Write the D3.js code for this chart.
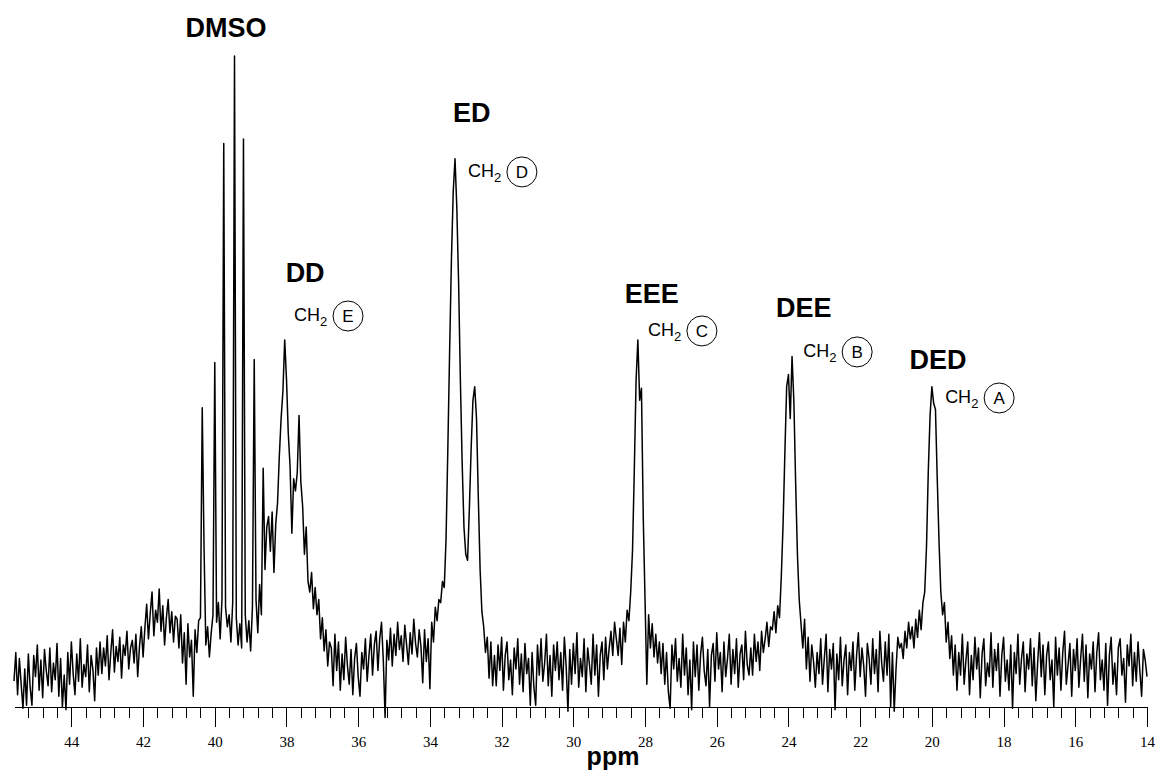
<!DOCTYPE html>
<html>
<head>
<meta charset="utf-8">
<script src="https://cdn.jsdelivr.net/npm/d3@7"></script>
<style>
  html, body { margin: 0; padding: 0; background: #fff; }
  svg { display: block; }
</style>
</head>
<body>
<svg id="chart" width="1155" height="771"></svg>
<script>
// ---------------- DATA ----------------
// 13C spectrum, evenly sampled from 45.6 ppm down to 14.0 ppm every 0.05 ppm
const ppmStart = 45.6;
const ppmStep = 0.05;
const intensity = [
  // 45.6 - 43.25
  -14, 5, -23, 1, -16, -32, -6, -30, 4, -18,
  -30, 3, -11, 10, -20, 0, -25, 7, -7, -17,
  8, -21, -2, -13, 11, -24, 1, -31, -10, -33,
  5, -16, 12, -9, -23, 4, -14, 14, -18, -3,
  -11, 10, -21, 3, -6, -27, 8, -10,
  // 43.2 - 42.0
  12, -9, 8, -4, 16, -13, 5, 20, -8, 9,
  -1, 15, -12, 10, 3, 19, -6, 8, 13, -2,
  17, -11, 9, 22, 2,
  // 41.95 - 41.1 (hump)
  21, 37, 14, 31, 45, 16, 33, 25, 47, 19,
  36, 10, 28, 40, 18, 32, 12, 29,
  // 41.05 - 40.45
  27, 8, 30, -2, 18, -16, 24, 2, 13, -24, 20, 5, 26,
  // 40.4 - 38.55 (DMSO multiplet)
  28, 167, 75, 10, 22, 2, 18, 30, 197, 25,
  38, 14, 40, 342, 35, 22, 30, 12, 38, 400,
  28, 10, 24, 8, 345, 30, 12, 26, 6, 35,
  199, 40, 18, 50, 30, 127, 60, 88,
  // 38.5 - 36.8 (DD)
  95, 72, 98, 58, 90, 104, 135, 160, 178, 212,
  186, 150, 128, 84, 120, 112, 124, 162, 118, 102,
  70, 88, 52, 45, 58, 34, 48, 30, 40, 14,
  28, 6, 20, -4, 12,
  // 36.75 - 34.3
  8, -17, 17, -7, 12, -20, 4, -13, 15, -4,
  -16, 7, -23, 1, 11, -11, -24, 5, -6, 14,
  -14, 3, 17, -10, 10, 19, -7, 14, 25, 0,
  -38, 13, 0, 21, -4, 17, 3, 25, 7, 16,
  -1, 23, 10, -3, 18, 4, 27, 11, 2, 20,
  // 34.25 - 32.2 (ED)
  9, -15, 20, -1, 14, -19, 25, 12, 35, 26,
  40, 38, 52, 48, 80, 140, 205, 265, 310, 332,
  300, 250, 185, 130, 88, 70, 66, 100, 140, 172,
  181, 160, 108, 60, 32, 22, 5, 15, -12, 12,
  -17, 3,
  // 32.15 - 28.8
  -17, 10, -7, 15, -20, 3, 12, -13, 0, -23,
  8, -6, 14, -16, 4, -21, 11, -9, 1, -30,
  5, -18, -30, 10, -10, 14, -14, -2, 17, -17,
  3, -24, 10, -7, 12, -13, 5, -20, 15, -4,
  -34, 7, -16, 11, -9, 18, -18, 1, -11, 14,
  -21, 8, -3, -16, 17, -10, 10, -24, 3, 12,
  -13, 15, -6, 8, 19, 3, 25, 14,
  // 28.75 - 27.6 (EEE)
  3, 21, -3, 25, 12, 33, 26, 45, 72, 125,
  185, 212, 172, 180, 95, 40, -16, 30, 8, 24,
  2, 17, -2, 12,
  // 27.55 - 24.5
  -9, 11, -16, 5, -21, -32, 10, -6, 14, -14,
  1, -18, 17, -10, 8, -23, 0, -33, 12, -11,
  10, -20, 4, 15, -7, -17, 7, -31, 3, 11,
  -14, 18, -6, 5, -21, 12, -11, 1, 17, -16,
  7, -9, 14, -18, 4, 10, -13, 19, -3, -10,
  8, -10, 17, -1, 12, -7, 19, 5, 14, 25, 9, 22,
  // 24.45 - 23.3 (DEE)
  20, 32, 18, 36, 28, 55, 90, 137, 181, 189,
  160, 201, 172, 118, 70, 40, 24, 8, 27, -6,
  15, -14, 10, -1,
  // 23.25 - 20.6
  -18, 5, -9, 14, -16, 1, 17, -21, 7, -6,
  11, -33, 4, -13, 15, -17, 0, 10, -23, 5,
  -7, 12, -20, 3, 18, -11, 8, -4, -24, 11,
  1, -16, 14, -9, 7, -21, 19, -2, -14, 12,
  -10, 17, -31, 5, -34, -6, 15, 8, 11, 1,
  19, 8, 25, 14,
  // 20.55 - 19.4 (DED)
  22, 8, 27, 15, 33, 20, 38, 45, 75, 125,
  162, 181, 170, 166, 120, 78, 45, 30, 38, 12,
  25, 1, 16, -10,
  // 19.35 - 14.0
  10, -20, 5, -10, 17, -16, 0, 12, -23, 3,
  -13, 15, -6, 8, -25, 4, 14, -17, -2, -11,
  18, -18, 7, -7, 11, -24, 3, 15, -14, 0,
  -20, 10, -32, 5, -9, 17, -16, 1, 12, -21,
  4, -6, 14, -17, 8, -27, -2, 18, -11, 10,
  -23, 3, 12, -13, 0, -31, 15, -10, 8, -20,
  5, 19, -16, -3, 11, -24, 7, -7, 14, -18,
  1, 17, -14, 10, -25, 4, -6, 12, -21, 5,
  18, -13, 0, -20, 11, -30, 3, 15, -16, -2,
  -23, 8, 14, -10, 1, -28, 10, -4, 17, -17,
  5, -14, 12, -7, -24, 7, 0, -11
];

const majorTicks = [44, 42, 40, 38, 36, 34, 32, 30, 28, 26, 24, 22, 20, 18, 16, 14];
const axisTitle = "ppm";

// peak group labels and their anchor (ppm, intensity)
const groupLabels = ["DMSO", "DD", "ED", "EEE", "DEE", "DED"];
const groupPpm    = [39.69, 37.48, 32.83, 27.81, 23.57, 19.83];
const groupLevel  = [412.6, 250.3, 356.3, 236.4, 227.2, 192.7];

// CH2 carbon labels (circled letter) and their anchor (ppm, intensity)
const carbonLetters = ["E", "D", "C", "B", "A"];
const carbonPpm     = [37.79, 32.94, 27.92, 23.59, 19.63];
const carbonLevel   = [224.5, 319.9, 214.6, 200.7, 170.2];

// ---------------- CHART ----------------
const W = 1155, H = 771;
const svg = d3.select("#chart");
svg.append("rect").attr("width", W).attr("height", H).attr("fill", "#fff");

const points = intensity.map((v, i) => ({ ppm: ppmStart - i * ppmStep, v }));

const x = d3.scaleLinear().domain([45.6, 14]).range([14, 1147]);
const y = d3.scaleLinear().domain([0, 400]).range([660, 56]);
const axisY = 707;

// minor ticks every 0.4 ppm
const minorTicks = d3.range(35, 114).filter(k => k % 5 !== 0).map(k => +(k * 0.4).toFixed(1));

const gMinor = svg.append("g").attr("transform", `translate(0,${axisY})`)
  .call(d3.axisBottom(x).tickValues(minorTicks).tickSize(11).tickSizeOuter(0).tickFormat(""));
const gMajor = svg.append("g").attr("transform", `translate(0,${axisY})`)
  .call(d3.axisBottom(x).tickValues(majorTicks).tickSize(20).tickSizeOuter(0)
    .tickPadding(9.5).tickFormat(d3.format("d")));

[gMinor, gMajor].forEach(g => {
  g.selectAll("path,line").attr("stroke", "#000").attr("stroke-width", 1).attr("shape-rendering", "crispEdges");
});
gMajor.selectAll("text")
  .attr("font-family", "'Liberation Serif', 'Times New Roman', serif")
  .attr("font-size", 15).attr("fill", "#000");

svg.append("text")
  .attr("x", 613).attr("y", 765)
  .attr("text-anchor", "middle")
  .attr("font-family", "'Liberation Sans', Arial, sans-serif")
  .attr("font-weight", "bold").attr("font-size", 25)
  .text(axisTitle);

// spectrum
const line = d3.line().x(d => x(d.ppm)).y(d => y(d.v));
svg.append("path")
  .datum(points)
  .attr("d", line)
  .attr("fill", "none")
  .attr("stroke", "#000")
  .attr("stroke-width", 1.5)
  .attr("stroke-linejoin", "round");

// group labels
groupLabels.forEach((t, i) => {
  svg.append("text")
    .attr("x", x(groupPpm[i])).attr("y", y(groupLevel[i]))
    .attr("text-anchor", "middle")
    .attr("font-family", "'Liberation Sans', Arial, sans-serif")
    .attr("font-weight", "bold").attr("font-size", 27)
    .attr("fill", "#000")
    .text(t);
});

// CH2 + circled letter labels
carbonLetters.forEach((c, i) => {
  const x0 = x(carbonPpm[i]), y0 = y(carbonLevel[i]);
  const g = svg.append("g");
  const t = g.append("text")
    .attr("x", x0).attr("y", y0)
    .attr("font-family", "'Liberation Sans', Arial, sans-serif")
    .attr("font-size", 18).attr("fill", "#000");
  t.append("tspan").text("CH");
  t.append("tspan").attr("font-size", 13).attr("dy", 5).text("2");
  const cx = x0 + 54, cy = y0 - 5;
  g.append("circle").attr("cx", cx).attr("cy", cy).attr("r", 15)
    .attr("fill", "none").attr("stroke", "#000").attr("stroke-width", 1);
  g.append("text")
    .attr("x", cx).attr("y", cy + 6)
    .attr("text-anchor", "middle")
    .attr("font-family", "'Liberation Sans', Arial, sans-serif")
    .attr("font-size", 17).attr("fill", "#000")
    .text(c);
});
</script>
</body>
</html>
